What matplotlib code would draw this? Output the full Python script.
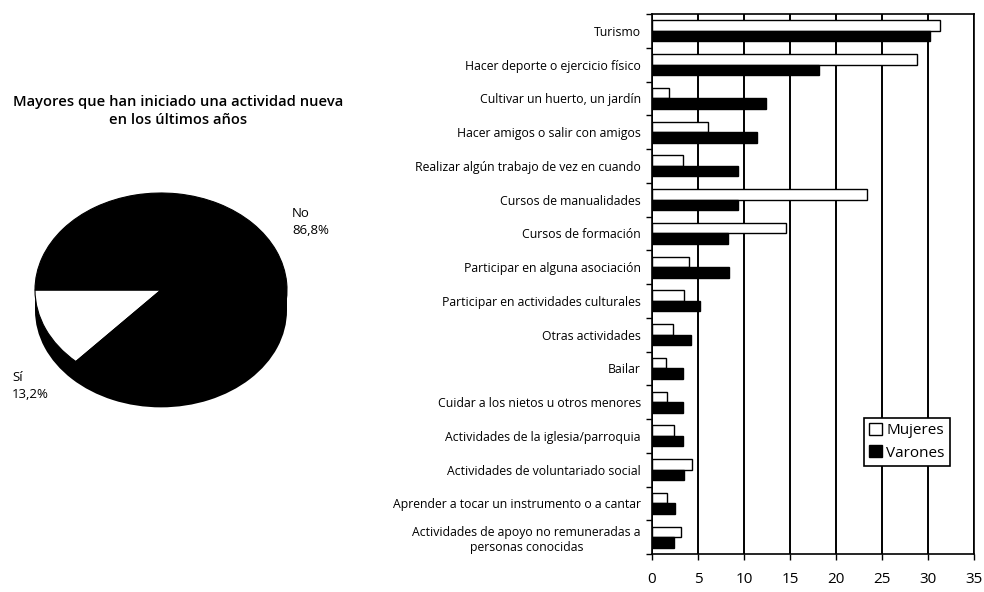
import numpy as np
import matplotlib.pyplot as plt

plt.rcParams['font.family'] = ['Open Sans', 'DejaVu Sans']

# datos
actividades = ['Turismo', 'Hacer deporte o ejercicio físico', 'Cultivar un huerto, un jardín',
               'Hacer amigos o salir con amigos', 'Realizar algún trabajo de vez en cuando',
               'Cursos de manualidades', 'Cursos de formación', 'Participar en alguna asociación',
               'Participar en actividades culturales', 'Otras actividades', 'Bailar',
               'Cuidar a los nietos u otros menores', 'Actividades de la iglesia/parroquia',
               'Actividades de voluntariado social', 'Aprender a tocar un instrumento o a cantar',
               'Actividades de apoyo no remuneradas a\npersonas conocidas']
mujeres = [31.3, 28.8, 1.9, 6.1, 3.4, 23.4, 14.6, 4.0, 3.5, 2.3, 1.5, 1.6, 2.4, 4.3, 1.6, 3.1]
varones = [30.2, 18.2, 12.4, 11.4, 9.3, 9.3, 8.3, 8.4, 5.2, 4.2, 3.4, 3.4, 3.4, 3.5, 2.5, 2.4]
xticks = [0, 5, 10, 15, 20, 25, 30, 35]

pie_vals = [13.2, 86.8]
pie_labels = ['Sí\n13,2%', 'No\n86,8%']
titulo = 'Mayores que han iniciado una actividad nueva\nen los últimos años'

fig = plt.figure(figsize=(9.84, 5.92), dpi=100)

# ---- tarta (pseudo 3d)
W, H = 984, 592
cx, cy, a, b = 161, 290, 126, 97
axp = fig.add_axes([(cx - 1.25*a)/W, 1 - (cy + 1.25*b)/H, 2.5*a/W, 2.5*b/H])
d = 0.21
axp.pie([1], colors=['black'], center=(0, -d), wedgeprops=dict(linewidth=0))
axp.fill_between([-1, 1], -d, 0, color='black', linewidth=0)
axp.pie(pie_vals, startangle=180, colors=['white', 'black'],
        wedgeprops=dict(edgecolor='black', linewidth=0.8))
axp.set_aspect('auto')
axp.set_xlim(-1.25, 1.25)
axp.set_ylim(-1.25, 1.25)
axp.axis('off')

fig.text(178/W, 1 - 111/H, titulo, ha='center', va='center', fontsize=10.6,
         fontweight='semibold', linespacing=1.45)
fig.text(292/W, 1 - 222/H, pie_labels[1], ha='left', va='center', fontsize=9.5, linespacing=1.4)
fig.text(12/W, 1 - 386/H, pie_labels[0], ha='left', va='center', fontsize=9.5, linespacing=1.4)

# ---- barras
ax = fig.add_axes([652/W, 1 - 554/H, (974 - 652)/W, (554 - 14)/H])
y = np.arange(len(actividades))
h = 0.31
ax.barh(y - h/2, mujeres, height=h, color='white', edgecolor='black', linewidth=1.0,
        label='Mujeres', zorder=3)
ax.barh(y + h/2, varones, height=h, color='black', edgecolor='black', linewidth=1.0,
        label='Varones', zorder=3)
ax.set_ylim(len(actividades) - 0.5, -0.5)
ax.set_xlim(0, 35)
ax.set_xticks(xticks)
ax.set_xticklabels([str(t) for t in xticks], fontsize=11)
ax.set_yticks(y)
ax.set_yticklabels(actividades, fontsize=8.8, multialignment='center', linespacing=1.2)
ax.tick_params(axis='y', length=0, pad=8)
ax.set_yticks(np.arange(len(actividades) + 1) - 0.5, minor=True)
ax.tick_params(axis='y', which='minor', length=4, width=1, direction='out')
ax.tick_params(axis='x', length=4, width=1, direction='out', pad=9)
ax.grid(axis='x', color='black', linewidth=1.4, zorder=0)
for s in ax.spines.values():
    s.set_linewidth(1.2)

leg = ax.legend(loc='upper left', bbox_to_anchor=(864/W, 1 - 418/H), bbox_transform=fig.transFigure,
                fontsize=11, frameon=True, fancybox=False, edgecolor='black', framealpha=1,
                handlelength=0.8, handleheight=0.8, handletextpad=0.3, borderpad=0.35,
                labelspacing=0.45, borderaxespad=0)
leg.get_frame().set_linewidth(1.2)

fig.savefig('out.png', dpi=100)
